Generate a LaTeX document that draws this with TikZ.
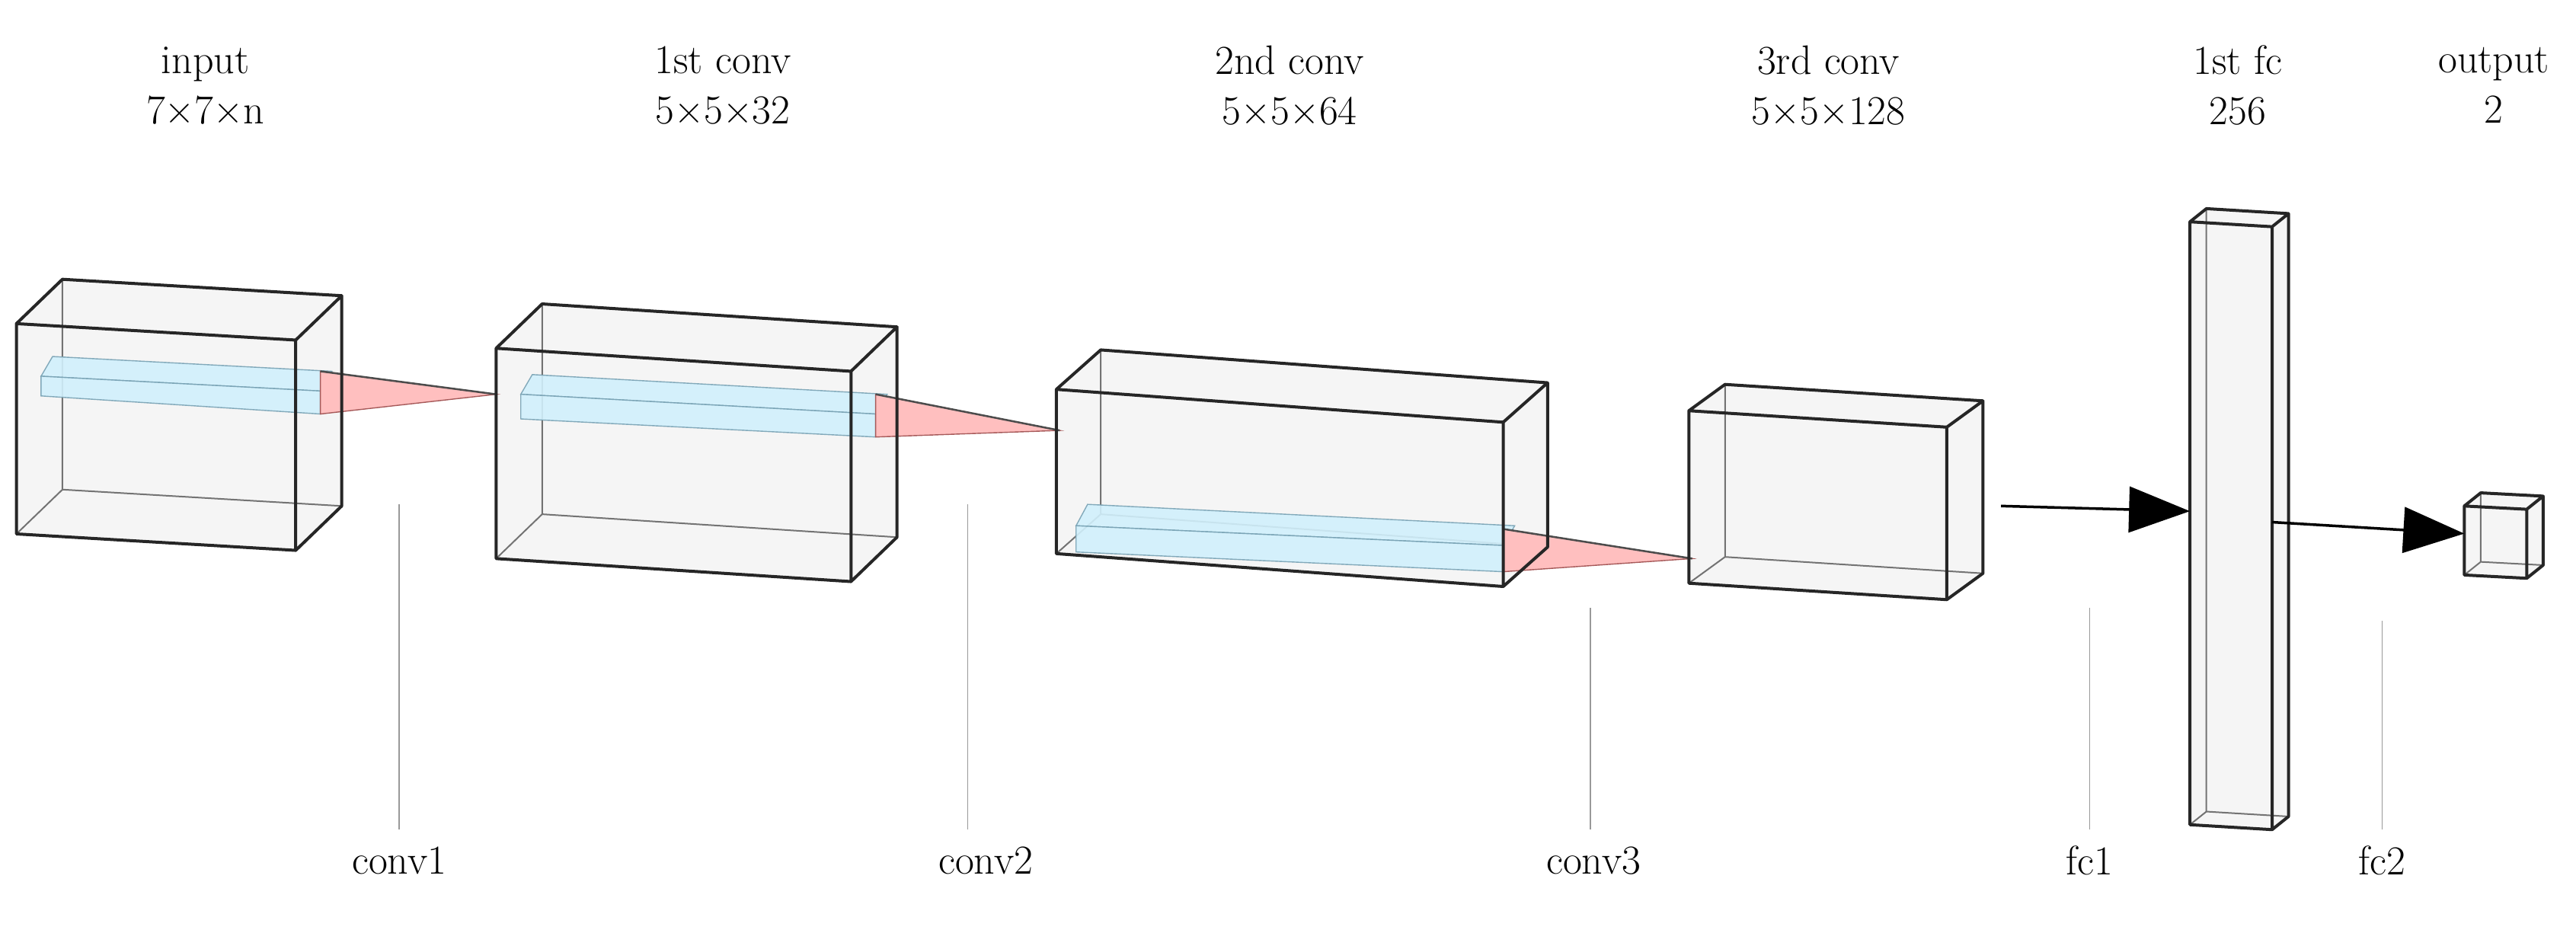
\documentclass[tikz,border=0pt]{standalone}
\usetikzlibrary{arrows.meta,calc}
\begin{document}
\begin{tikzpicture}[x=2.157pt,y=-2.157pt,
  lab/.style={font=\fontsize{54}{66}\selectfont, align=center},
  guide/.style={draw=gray!80, line width=1.5pt},
  back/.style={draw=black!55, line width=2pt},
  front/.style={draw=black!85, line width=4pt, line join=round},
  blue/.style={fill=cyan!18, draw=cyan!35!gray, line width=1.4pt, opacity=0.9},
  pink/.style={fill=red!25, draw=red!30!gray, line width=1.4pt},
  fcarrow/.style={draw=black, line width=3.5pt, -{Triangle[length=80pt,width=60pt]}}]
\useasboundingbox (0,0) rectangle (1568,566);
\newcommand\mycuboid[8]{%
  \coordinate (#1-a) at (#2,#3);
  \coordinate (#1-b) at (#2+#4,#3+#6);
  \coordinate (#1-c) at (#2+#4,#3+#5+#6);
  \coordinate (#1-d) at (#2,#3+#5);
  \coordinate (#1-A) at (#2+#7,#3+#8);
  \coordinate (#1-B) at (#2+#4+#7,#3+#6+#8);
  \coordinate (#1-C) at (#2+#4+#7,#3+#5+#6+#8);
  \coordinate (#1-D) at (#2+#7,#3+#5+#8);
  \fill[gray!8] (#1-a) -- (#1-A) -- (#1-B) -- (#1-C) -- (#1-c) -- (#1-d) -- cycle;
  \draw[back] (#1-A) -- (#1-D) -- (#1-C) (#1-D) -- (#1-d);
}
\newcommand\myfront[1]{%
  \draw[front] (#1-a) -- (#1-b) -- (#1-c) -- (#1-d) -- cycle
    (#1-a) -- (#1-A) -- (#1-B) -- (#1-b) (#1-B) -- (#1-C) -- (#1-c);
}
\node[lab] (t1) at (125,52) {input\\7×7×n};
\node[lab] (t2) at (440,52) {1st conv\\5×5×32};
\node[lab] (t3) at (785,52) {2nd conv\\5×5×64};
\node[lab] (t4) at (1113,52) {3rd conv\\5×5×128};
\node[lab] (t5) at (1362,52) {1st fc\\256};
\node[lab] (t6) at (1518,52) {output\\2};
\node[lab] (l1) at (243,524) {conv1};
\node[lab] (l2) at (600,524) {conv2};
\node[lab] (l3) at (970,524) {conv3};
\node[lab] (l4) at (1272,524) {fc1};
\node[lab] (l5) at (1450,524) {fc2};
\coordinate (g1) at (243,307); \coordinate (g2) at (589,307);
\coordinate (g3) at (968,370); \coordinate (g4) at (1272,370);
\coordinate (g5) at (1450,378);
\draw[guide] (g1) -- (243,505); \draw[guide] (g2) -- (589,505);
\draw[guide] (g3) -- (968,505); \draw[guide] (g4) -- (1272,505);
\draw[guide] (g5) -- (1450,505);
\mycuboid{b1}{10}{197}{170}{128}{10}{28}{-27}
\mycuboid{b2}{302}{212}{216}{128}{14}{28}{-27}
\mycuboid{b3}{643}{237}{272}{100}{20}{27}{-24}
\mycuboid{b4}{1028}{250}{157}{105}{10}{22}{-16}
\mycuboid{b5}{1333}{135}{50}{367}{3}{10}{-8}
\mycuboid{b6}{1500}{308}{38}{42}{2}{10}{-8}
\fill[blue] (25,229) -- (32,217) -- (202,226) -- (195,238) -- cycle;
\fill[blue] (25,229) -- (195,238) -- (195,252) -- (25,241) -- cycle;
\fill[pink] (195,226) -- (302,240) -- (195,252) -- cycle;
\draw[black!70,line width=2.5pt] (195,226) -- (302,240);
\fill[blue] (317,240) -- (324,228) -- (540,240) -- (533,252) -- cycle;
\fill[blue] (317,240) -- (533,252) -- (533,266) -- (317,255) -- cycle;
\fill[pink] (533,240) -- (645,262) -- (533,266) -- cycle;
\draw[black!70,line width=2.5pt] (533,240) -- (645,262);
\fill[blue] (655,320) -- (662,307) -- (922,320) -- (915,332) -- cycle;
\fill[blue] (655,320) -- (915,332) -- (915,348) -- (655,336) -- cycle;
\fill[pink] (915,322) -- (1030,340) -- (915,348) -- cycle;
\draw[black!70,line width=2.5pt] (915,322) -- (1030,340);
\myfront{b1}\myfront{b2}\myfront{b3}\myfront{b4}\myfront{b5}\myfront{b6}
\coordinate (s1) at (1218,308);
\draw[fcarrow] (s1) -- ($(b5-a)!0.48!(b5-d)$);
\draw[fcarrow] ($(b5-b)!0.49!(b5-c)$) -- ($(b6-a)!0.4!(b6-d)$);
\end{tikzpicture}
\end{document}
